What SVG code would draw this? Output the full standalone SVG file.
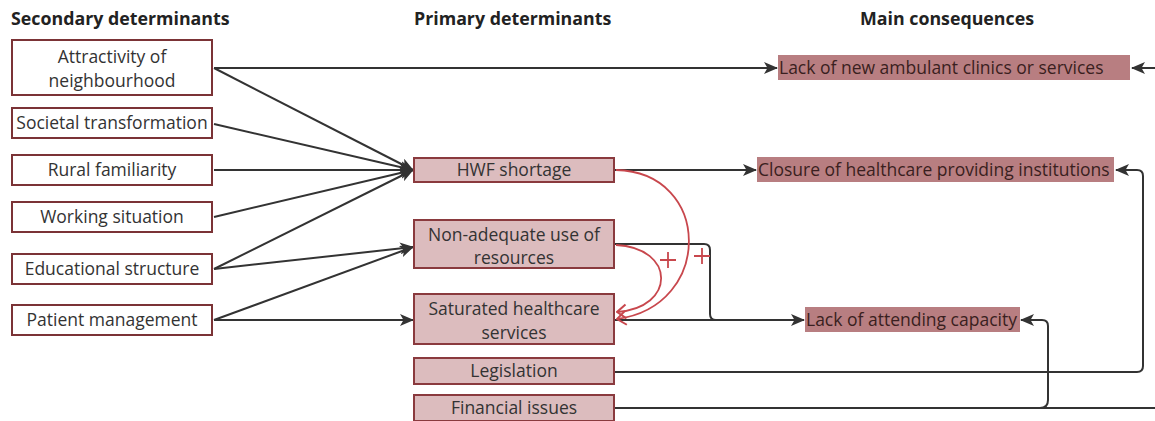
<svg xmlns="http://www.w3.org/2000/svg" width="1155" height="421" viewBox="0 0 1155 421">
<defs>
<style>
.h{font-family:"Open Sans","Liberation Sans",sans-serif;font-weight:bold;font-size:17.8px;fill:#222}
.t{font-family:"Open Sans","Liberation Sans",sans-serif;font-size:17.5px;fill:#333;text-anchor:middle}
.tc{font-family:"Open Sans","Liberation Sans",sans-serif;font-size:17.5px;fill:#3a1f20}
.sec{fill:#fff;stroke:#7b3336;stroke-width:2}
.pri{fill:#dcbcbe;stroke:#8a3a3e;stroke-width:2}
.con{fill:#b87e81}
.ln{fill:none;stroke:#333;stroke-width:2}
.rd{fill:none;stroke:#c8474d;stroke-width:1.8}
</style>
<marker id="ar" viewBox="0 0 14 12" refX="13" refY="6" markerWidth="14" markerHeight="12" markerUnits="userSpaceOnUse" orient="auto">
<path d="M0,0 L14,6 L0,12 L3.5,6 z" fill="#333"/>
</marker>
<marker id="ro" viewBox="0 0 12 16" refX="11" refY="8" markerWidth="12" markerHeight="16" markerUnits="userSpaceOnUse" orient="auto">
<path d="M2,1 L11,8 L2,15" fill="none" stroke="#c8474d" stroke-width="2"/>
</marker>
</defs>
<rect width="1155" height="421" fill="#fff"/>
<g id="headers">
<text class="h" x="11" y="25">Secondary determinants</text>
<text class="h" x="414" y="25">Primary determinants</text>
<text class="h" x="860" y="25">Main consequences</text>
</g>
<g id="connectors">
<line class="ln" x1="214" y1="68" x2="777" y2="68" marker-end="url(#ar)"/>
<line class="ln" x1="1155" y1="68" x2="1132" y2="68" marker-end="url(#ar)"/>
<line class="ln" x1="214" y1="68" x2="413" y2="170" marker-end="url(#ar)"/>
<line class="ln" x1="214" y1="124" x2="413" y2="170" marker-end="url(#ar)"/>
<line class="ln" x1="214" y1="170" x2="413" y2="170" marker-end="url(#ar)"/>
<line class="ln" x1="214" y1="217" x2="413" y2="170" marker-end="url(#ar)"/>
<line class="ln" x1="214" y1="269" x2="413" y2="170" marker-end="url(#ar)"/>
<line class="ln" x1="214" y1="269" x2="413" y2="247" marker-end="url(#ar)"/>
<line class="ln" x1="214" y1="320" x2="413" y2="247" marker-end="url(#ar)"/>
<line class="ln" x1="214" y1="320" x2="413" y2="320" marker-end="url(#ar)"/>
<line class="ln" x1="615" y1="170" x2="756" y2="170" marker-end="url(#ar)"/>
<path class="ln" d="M615,244 H704 Q710,244 710,250 V314 Q710,320 716,320 H804" marker-end="url(#ar)"/>
<line class="ln" x1="615" y1="320" x2="716" y2="320"/>
<path class="ln" d="M615,372 H1137 Q1143,372 1143,366 V176 Q1143,170 1137,170 H1116" marker-end="url(#ar)"/>
<line class="ln" x1="615" y1="408" x2="1155" y2="408"/>
<path class="ln" d="M1040,408 Q1048,408 1048,400 V326 Q1048,320 1042,320 H1021" marker-end="url(#ar)"/>
<path class="rd" d="M616,170 C712,172 714,306 617,319" marker-end="url(#ro)"/>
<path class="rd" d="M616,245 C676,248 676,308 617,312" marker-end="url(#ro)"/>
<path class="rd" d="M660,260 H676 M668,252 V268"/>
<path class="rd" d="M694,256 H710 M702,248 V264"/>
</g>
<g id="n-attract"><rect class="sec" x="12" y="40" width="200" height="55"/><text class="t" x="112" y="63">Attractivity of</text><text class="t" x="112" y="87">neighbourhood</text></g>
<g id="n-societal"><rect class="sec" x="12" y="108" width="200" height="30"/><text class="t" x="112" y="129">Societal transformation</text></g>
<g id="n-rural"><rect class="sec" x="12" y="155" width="200" height="30"/><text class="t" x="112" y="176">Rural familiarity</text></g>
<g id="n-working"><rect class="sec" x="12" y="202" width="200" height="30"/><text class="t" x="112" y="223">Working situation</text></g>
<g id="n-edu"><rect class="sec" x="12" y="254" width="200" height="30"/><text class="t" x="112" y="275">Educational structure</text></g>
<g id="n-patient"><rect class="sec" x="12" y="305" width="200" height="30"/><text class="t" x="112" y="326">Patient management</text></g>
<g id="n-hwf"><rect class="pri" x="414" y="158" width="200" height="24"/><text class="t" x="514" y="176">HWF shortage</text></g>
<g id="n-nonadequate"><rect class="pri" x="414" y="220" width="200" height="48"/><text class="t" x="514" y="241">Non-adequate use of</text><text class="t" x="514" y="264">resources</text></g>
<g id="n-saturated"><rect class="pri" x="414" y="294" width="200" height="50"/><text class="t" x="514" y="315">Saturated healthcare</text><text class="t" x="514" y="339">services</text></g>
<g id="n-legislation"><rect class="pri" x="414" y="358" width="200" height="26"/><text class="t" x="514" y="377">Legislation</text></g>
<g id="n-financial"><rect class="pri" x="414" y="395" width="200" height="26"/><text class="t" x="514" y="414">Financial issues</text></g>
<g id="c-ambulant"><rect class="con" x="778" y="55" width="352" height="25"/><text class="tc" x="779" y="74">Lack of new ambulant clinics or services</text></g>
<g id="c-closure"><rect class="con" x="757" y="157" width="357" height="25"/><text class="tc" x="758" y="176">Closure of healthcare providing institutions</text></g>
<g id="c-attending"><rect class="con" x="805" y="307" width="215" height="25"/><text class="tc" x="806" y="326">Lack of attending capacity</text></g>
</svg>
